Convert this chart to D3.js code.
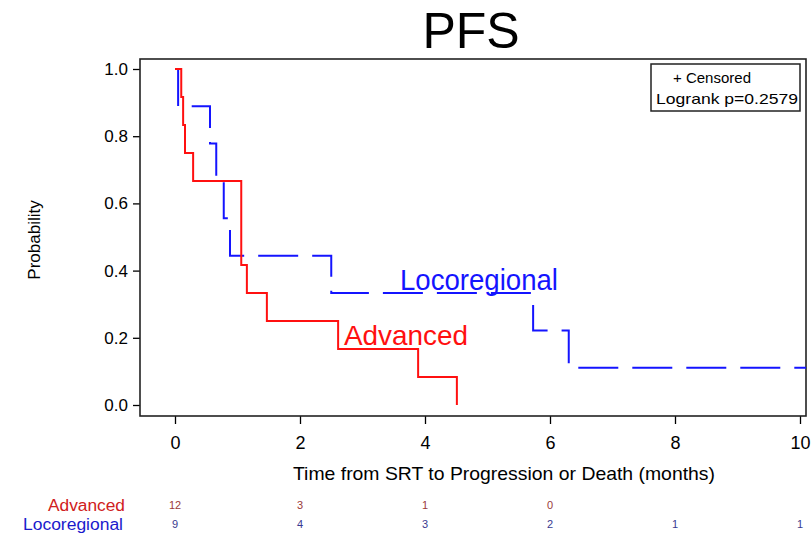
<!DOCTYPE html>
<html>
<head>
<meta charset="utf-8">
<script src="https://cdn.jsdelivr.net/npm/d3@7"></script>
<style>
  html, body { margin: 0; padding: 0; background: #fff; }
  svg { display: block; font-family: "Liberation Sans", Arial, sans-serif; }
</style>
</head>
<body>
<svg id="chart" width="812" height="534"></svg>
<script>
// ---- Data ----
const advTimes = [0, 0.10, 0.13, 0.16, 0.29, 1.06, 1.15, 1.47, 2.61, 3.89, 4.51];
const advSurv  = [1.0, 0.917, 0.833, 0.750, 0.667, 0.417, 0.333, 0.250, 0.167, 0.083, 0.0];
const locoTimes = [0, 0.05, 0.56, 0.66, 0.78, 0.88, 2.50, 5.73, 6.30, 10.3];
const locoSurv  = [1.0, 0.889, 0.778, 0.667, 0.556, 0.444, 0.333, 0.222, 0.111, 0.111];
const xTicks = [0, 2, 4, 6, 8, 10];
const yTicks = [0.0, 0.2, 0.4, 0.6, 0.8, 1.0];
const riskTimes = [0, 2, 4, 6, 8, 10];
const advRisk = [12, 3, 1, 0];
const locoRisk = [9, 4, 3, 2, 1, 1];
const groupNames = ["Advanced", "Locoregional"];

// ---- Layout ----
const frame = {left: 140, top: 59, right: 806, bottom: 416};
const x = d3.scaleLinear().domain([0, 10]).range([175, 800]);
const y = d3.scaleLinear().domain([0, 1]).range([405, 69]);

const svg = d3.select("#chart");

svg.append("defs").append("clipPath").attr("id", "plotclip")
  .append("rect")
  .attr("x", frame.left).attr("y", frame.top)
  .attr("width", frame.right - frame.left).attr("height", frame.bottom - frame.top);

// Title
svg.append("text").attr("x", 471).attr("y", 48).attr("text-anchor", "middle")
  .attr("font-size", 50).attr("fill", "#000").text("PFS");

// Axes
const yAxis = d3.axisLeft(y).tickValues(yTicks).tickFormat(d3.format(".1f")).tickSize(7).tickPadding(5);
const gy = svg.append("g").attr("transform", `translate(${frame.left},0)`).call(yAxis);
gy.select(".domain").remove();
gy.selectAll("text").attr("font-size", 17).attr("font-family", "Liberation Sans, Arial, sans-serif").attr("fill", "#000");
gy.selectAll("line").attr("stroke", "#000").attr("stroke-width", 1.3);

const xAxis = d3.axisBottom(x).tickValues(xTicks).tickFormat(d3.format("d")).tickSize(8).tickPadding(12);
const gx = svg.append("g").attr("transform", `translate(0,${frame.bottom})`).call(xAxis);
gx.select(".domain").remove();
gx.selectAll("text").attr("font-size", 18).attr("font-family", "Liberation Sans, Arial, sans-serif").attr("fill", "#000");
gx.selectAll("line").attr("stroke", "#000").attr("stroke-width", 1.3);

// Frame
svg.append("rect").attr("x", frame.left).attr("y", frame.top)
  .attr("width", frame.right - frame.left).attr("height", frame.bottom - frame.top)
  .attr("fill", "none").attr("stroke", "#222").attr("stroke-width", 1.6);

// Axis labels
svg.append("text").attr("transform", "translate(40,240) rotate(-90)")
  .attr("text-anchor", "middle").attr("font-size", 17).attr("fill", "#000").text("Probability");
svg.append("text").attr("x", 293).attr("y", 480)
  .attr("font-size", 19).attr("fill", "#000")
  .attr("textLength", 422).attr("lengthAdjust", "spacingAndGlyphs")
  .text("Time from SRT to Progression or Death (months)");

// Curves
const line = d3.line().curve(d3.curveStepAfter).x(d => x(d[0])).y(d => y(d[1]));
const plot = svg.append("g").attr("clip-path", "url(#plotclip)");
plot.append("path").datum(d3.zip(locoTimes, locoSurv))
  .attr("d", line).attr("fill", "none").attr("stroke", "#1414ff").attr("stroke-width", 2)
  .attr("stroke-dasharray", "40,14");
plot.append("path").datum(d3.zip(advTimes, advSurv))
  .attr("d", line).attr("fill", "none").attr("stroke", "#ff1010").attr("stroke-width", 2);

// Curve labels
svg.append("text").attr("x", 400).attr("y", 290).attr("font-size", 30).attr("fill", "#1414ff")
  .attr("textLength", 158).attr("lengthAdjust", "spacingAndGlyphs").text("Locoregional");
svg.append("text").attr("x", 344).attr("y", 345).attr("font-size", 28).attr("fill", "#ff1010")
  .attr("textLength", 124).attr("lengthAdjust", "spacingAndGlyphs").text("Advanced");

// Legend box
svg.append("rect").attr("x", 651).attr("y", 64).attr("width", 149).attr("height", 47)
  .attr("fill", "#fff").attr("stroke", "#222").attr("stroke-width", 1.5);
svg.append("text").attr("x", 712).attr("y", 83).attr("text-anchor", "middle")
  .attr("font-size", 15).attr("fill", "#000").text("+ Censored");
svg.append("text").attr("x", 656).attr("y", 104)
  .attr("font-size", 15).attr("fill", "#000")
  .attr("textLength", 142).attr("lengthAdjust", "spacingAndGlyphs").text("Logrank p=0.2579");

// At-risk table
svg.append("text").attr("x", 125).attr("y", 511).attr("text-anchor", "end")
  .attr("font-size", 16).attr("fill", "#d02020")
  .attr("textLength", 77).attr("lengthAdjust", "spacingAndGlyphs").text(groupNames[0]);
svg.append("text").attr("x", 123).attr("y", 530).attr("text-anchor", "end")
  .attr("font-size", 16).attr("fill", "#1a1acc")
  .attr("textLength", 100).attr("lengthAdjust", "spacingAndGlyphs").text(groupNames[1]);
svg.append("g").selectAll("text").data(advRisk).join("text")
  .attr("x", (d, i) => x(riskTimes[i])).attr("y", 509).attr("text-anchor", "middle")
  .attr("font-size", 11).attr("fill", "#9a3a3a").text(d => d);
svg.append("g").selectAll("text").data(locoRisk).join("text")
  .attr("x", (d, i) => x(riskTimes[i])).attr("y", 528).attr("text-anchor", "middle")
  .attr("font-size", 11).attr("fill", "#3a3a90").text(d => d);
</script>
</body>
</html>
